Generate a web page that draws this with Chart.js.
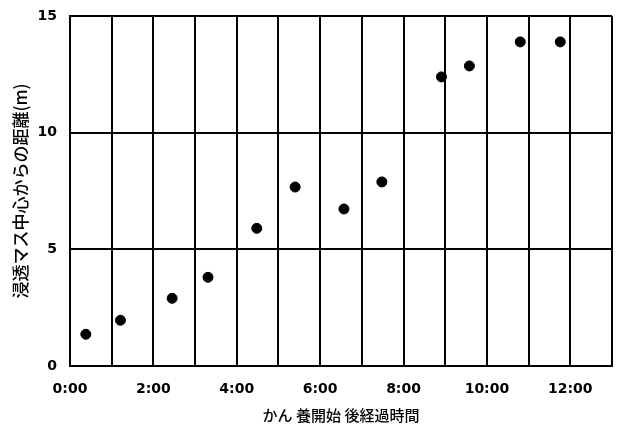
<!DOCTYPE html>
<html>
<head>
<meta charset="utf-8">
<script src="https://cdn.jsdelivr.net/npm/chart.js@4"></script>
<style>
  html, body { margin: 0; padding: 0; background: #fff; }
  #wrap { width: 618px; height: 425px; position: relative; }
</style>
</head>
<body>
<div id="wrap"><canvas id="chart"></canvas></div>
<script>
// elapsed time (hours) and distance from the infiltration basin centre (m)
const hours = [0.38, 1.21, 2.45, 3.31, 4.48, 5.40, 6.57, 7.48, 8.91, 9.58, 10.80, 11.76];
const distance = [1.36, 1.96, 2.90, 3.80, 5.90, 7.67, 6.73, 7.89, 12.39, 12.86, 13.89, 13.89];
const xTitle = 'かん 養開始 後経過時間';
const yTitle = '浸透マス中心からの距離(m)';

document.addEventListener('DOMContentLoaded', function() {
  const pts = hours.map((h, i) => ({ x: h, y: distance[i] }));
  const tickFont = { family: 'DejaVu Sans', size: 14, weight: 'bold' };

  new Chart(document.getElementById('chart'), {
    type: 'scatter',
    data: {
      datasets: [{
        data: pts,
        backgroundColor: '#000',
        borderColor: '#000',
        pointRadius: 5,
        pointHoverRadius: 5
      }]
    },
    options: {
      responsive: true,
      maintainAspectRatio: false,
      animation: false,
      layout: { padding: { top: 16, right: 3, left: 0, bottom: 0 } },
      plugins: { legend: { display: false }, tooltip: { enabled: false } },
      scales: {
        x: {
          type: 'linear',
          min: 0,
          max: 13,
          border: { color: '#000', width: 2 },
          grid: { color: '#000', lineWidth: 2, drawTicks: false },
          ticks: {
            stepSize: 1,
            autoSkip: false,
            maxRotation: 0,
            padding: 15,
            color: '#000',
            font: tickFont,
            callback: v => (v % 2 === 0 && v <= 12) ? v + ':00' : ''
          },
          title: { display: true, text: xTitle, color: '#000', font: { family: 'Noto Sans CJK JP', size: 15, weight: 500 }, padding: { top: 0, bottom: 1 } },
          afterFit: s => { s.height = 59; s.paddingLeft = 0; s.paddingRight = 0; }
        },
        y: {
          min: 0,
          max: 15,
          border: { color: '#000', width: 2 },
          grid: { color: '#000', lineWidth: 2, drawTicks: false },
          ticks: { stepSize: 5, padding: 13, color: '#000', font: tickFont },
          title: { display: true, text: yTitle, color: '#000', font: { family: 'Noto Sans CJK JP', size: 17, weight: 500 }, padding: { top: 10, bottom: 0 } },
          afterFit: s => { s.width = 70; s.paddingTop = 0; s.paddingBottom = 0; }
        }
      }
    }
  });
});
</script>
</body>
</html>
